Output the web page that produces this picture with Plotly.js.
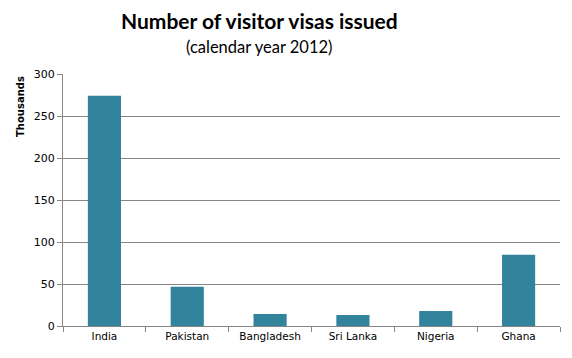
<!DOCTYPE html>
<html><head><meta charset="utf-8">
<script src="https://cdn.plot.ly/plotly-3.0.1.min.js"></script>
<style>html,body{margin:0;padding:0;background:#fff}#chart{width:572px;height:358px}</style>
</head><body><div id="chart"></div>
<script>
const countries = ["India", "Pakistan", "Bangladesh", "Sri Lanka", "Nigeria", "Ghana"];
const visasThousands = [274, 46.6, 14.3, 13.1, 17.9, 84.8];
const yTickValues = [0, 50, 100, 150, 200, 250, 300];

const tickFamily = "'DejaVu Sans', Verdana, sans-serif";

const trace = {
  type: "bar",
  x: countries,
  y: visasThousands,
  width: 0.4,
  marker: {color: "#31849B"},
  hoverinfo: "x+y"
};

const layout = {
  width: 572, height: 358,
  margin: {l: 63, r: 12, t: 74, b: 32},
  paper_bgcolor: "#fff", plot_bgcolor: "#fff",
  showlegend: false,
  font: {family: tickFamily, size: 10.5, color: "#000"},
  xaxis: {
    type: "category",
    showline: true, linecolor: "#868686", linewidth: 1,
    ticks: "outside", tickson: "boundaries", ticklen: 5, tickcolor: "#868686",
    showgrid: false,
    tickfont: {family: tickFamily, size: 10.5, color: "#000"}
  },
  yaxis: {
    range: [0, 300], tickvals: yTickValues,
    showline: true, linecolor: "#868686", linewidth: 1,
    ticks: "outside", ticklen: 5, tickcolor: "#868686",
    showgrid: true, gridcolor: "#868686", gridwidth: 1,
    zeroline: false,
    tickfont: {family: tickFamily, size: 11, color: "#000"}
  },
  annotations: [
    {text: "<b>Number of visitor visas issued</b>", xref: "paper", yref: "paper",
     x: 0.395, y: 1, yshift: 54, xanchor: "center", yanchor: "middle", showarrow: false,
     font: {family: "Lato, 'Open Sans', sans-serif", size: 21, color: "#000"}},
    {text: "(calendar year 2012)", xref: "paper", yref: "paper",
     x: 0.395, y: 1, yshift: 27, xanchor: "center", yanchor: "middle", showarrow: false,
     font: {family: "Lato, 'Open Sans', sans-serif", size: 16.5, color: "#000"}},
    {text: "<b>Thousands</b>", xref: "paper", yref: "paper",
     x: 0, xshift: -43, y: 1, yshift: -33, xanchor: "center", yanchor: "middle",
     textangle: -90, showarrow: false,
     font: {family: tickFamily, size: 10, color: "#000"}}
  ]
};

Plotly.newPlot("chart", [trace], layout, {displayModeBar: false, staticPlot: true});
</script></body></html>
